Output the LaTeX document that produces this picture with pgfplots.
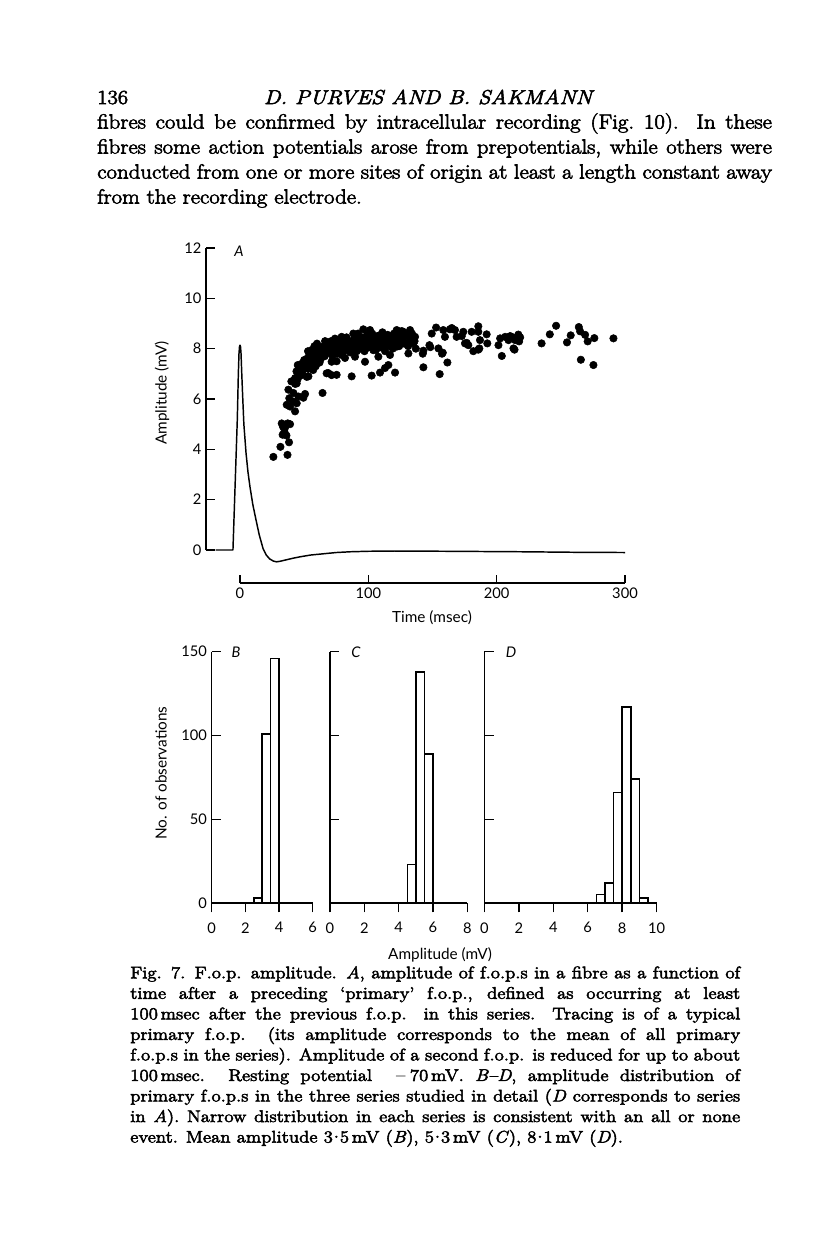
\documentclass[border=0pt]{standalone}
\usepackage{pgfplots}
\pgfplotsset{compat=1.18}
\usepackage{fontspec}
\newfontfamily\pagefont{Latin Modern Roman}[FakeBold=3, FakeStretch=1.12, Ligatures=TeX]
\newfontfamily\figfont{Lato}

\pgfplotsset{
  figaxis/.style={
    scale only axis,
    anchor=south west,
    axis line style={line width=1.1pt},
    tick style={black, line width=1.1pt},
    major tick length=7pt,
    tick label style={font=\figfont\fontsize{11}{12}\selectfont},
    /pgf/number format/assume math mode=true,
    clip=false,
  },
  noarrows/.style={
    tick align=inside,
    every outer x axis line/.append style={-},
    every outer y axis line/.append style={-},
    every inner x axis line/.append style={-},
    every inner y axis line/.append style={-},
    x axis line style={-}, y axis line style={-},
  },
  hist/.style={
    figaxis,
    axis lines=left,
    noarrows,
    ymin=0, ymax=150,
    ytick={0,50,100,150},
    height=188.5pt,
    every x tick/.append style={yshift=-7pt},
    xticklabel style={yshift=-11pt},
  },
}

\begin{document}
\begin{tikzpicture}[x=0.75pt, y=-0.75pt]
\fill[white] (0,0) rectangle (816,1250);
\path[use as bounding box] (0,0) rectangle (816,1250);
\coordinate (pA) at (206,550);
\coordinate (pT) at (240,583);
\coordinate (pB) at (211.7,903);
\coordinate (pC) at (330,903);
\coordinate (pD) at (484.3,903);

% page text
\node[anchor=base west, inner sep=0, font=\pagefont\fontsize{15}{18}\selectfont] at (97,104) {136};
\node[anchor=base, inner sep=0, font=\pagefont\itshape\fontsize{15}{18}\selectfont] at (428,104) {D. PURVES AND B. SAKMANN};
\node[anchor=north west, inner sep=0, text width=506pt, align=justify,
      font=\pagefont\fontsize{15.3}{18.75}\selectfont] at (97,113)
  {fibres could be confirmed by intracellular recording (Fig.~10). In these\linebreak
   fibres some action potentials arose from prepotentials, while others were\linebreak
   conducted from one or more sites of origin at least a length constant away\linebreak
   from the recording electrode.};

% ---------------- panel A ----------------
\begin{axis}[figaxis,
  at={(pA)},
  width=314.25pt, height=226.5pt,
  xmin=-26.5, xmax=300, ymin=0, ymax=12,
  axis x line=none, axis y line=left,
  noarrows,
  ytick={0,2,4,6,8,10,12},
]
% tracing of a primary f.o.p.
\addplot[black, line width=1.1pt, line join=round] coordinates {
  (-19,0) (-5.5,0) (-3.8,2.6) (-2.1,5.2) (-1.3,7.0) (-0.8,7.8) (-0.4,8.08) (0,8.14)
  (0.4,8.08) (0.8,7.8) (1.3,7.1) (2.0,6.2) (3.0,5.0) (4.7,3.85) (6.2,3.1) (7.8,2.5)
  (10,1.8) (12.5,1.19) (15,0.6) (18,0.05) (20.5,-0.2) (23,-0.35) (26,-0.44) (28.6,-0.47)
  (32,-0.44) (36,-0.39) (41,-0.33) (46.8,-0.27) (55,-0.2) (65,-0.15) (75,-0.1) (86,-0.07)
  (100,-0.05) (120,-0.04) (160,-0.05) (220,-0.07) (260,-0.09) (300,-0.10)
};
% amplitudes of second f.o.p.s
\addplot[only marks, mark=*, mark size=2.8pt, black] coordinates {
  (26,3.70) (31.5,4.10) (37,3.78) (38.2,4.28) (33.5,4.90) (34.6,4.70) (36.2,4.55)
  (33.2,4.58) (39,5.00) (32.5,5.03) (37.2,5.03) (35,4.85)
  (36.4,5.77) (39,5.70) (42.9,5.51) (41.6,5.90) (37.7,6.37) (45.5,6.10) (50.7,6.20)
  (41.6,6.24) (64.3,6.24) (38.4,6.03) (49.4,6.05) (44.2,5.83)
  (42.9,6.83) (44.2,6.62) (41.6,6.69) (46.8,7.02) (48.1,7.03) (52,6.88) (53.3,6.90)
  (50.7,7.45) (53.3,7.55) (55.9,7.90) (57.2,7.75) (59.8,7.88) (61.1,8.03) (62.4,8.05)
  (66.3,8.30) (70.1,8.14) (40,6.70) (43,6.60) (44,7.10) (45,6.80) (46,7.25) (47,7.00)
  (48,7.40) (49,7.15) (50,7.55) (51,7.30) (52,7.60) (53,7.20) (54,7.75) (45,7.35)
  (48,6.95) (53,7.90) (56,7.95) (58,8.10) (59,7.30) (62,7.45) (60,8.20) (55,7.40) (57,7.15)
  (67.5,7.02) (71.4,6.95) (68.8,7.03) (75.3,6.96) (87,6.90) (102.6,6.93) (109.1,7.05)
  (113,7.23) (115.6,7.35) (120.8,7.05) (71.4,7.48) (75.3,7.50) (81.8,7.63) (97.4,7.48)
  (89.6,7.68) (107.8,7.68) (116.9,7.75)
  (55,7.30) (56,7.60) (58,7.45) (60,7.70) (61,7.95) (63,7.60) (64,7.85) (65,8.10)
  (66,7.70) (67,7.95) (68,8.20) (69,7.85) (70,8.00) (71,8.30) (72,7.70) (73,8.10)
  (74,8.40) (75,8.00) (76,7.80) (77,8.25) (78,8.10) (79,8.00) (80,8.35) (81,7.90)
  (82,8.15) (83,8.45) (84,8.05) (85,8.30) (86,7.85) (87,8.20) (88,8.05) (89,8.40)
  (90,8.10) (91,7.90) (92,8.60) (93,8.20) (94,8.00) (95,8.45) (96,8.30) (97,7.90)
  (98,8.15) (99,8.55) (100,8.05) (101,8.40) (102,8.20) (103,8.60) (104,8.10) (105,8.35)
  (106,7.95) (107,8.50) (108,8.25) (109,8.05) (110,8.40) (111,8.65) (112,8.20) (113,7.90)
  (114,8.30) (115,8.55) (116,8.10) (117,8.45) (118,8.30) (119,8.00) (120,8.60) (121,8.20)
  (122,8.40) (123,8.55) (124,8.10) (125,8.30) (126,8.70) (127,8.45) (128,8.20) (130,8.50)
  (131,8.10) (133,8.35) (134,8.60) (136,8.30) (137,8.00)
  (74,7.88) (75.3,8.34) (79.2,8.47) (79.2,7.75) (83.1,8.21) (85.7,7.94) (88.3,8.60)
  (92.2,8.34) (96.1,8.77) (96.1,8.08) (100,8.34) (101.3,8.74) (103.9,7.94) (106.5,8.21)
  (109.1,8.54) (111.7,8.08) (114.3,8.47) (122.1,8.74) (122.1,8.08) (124.7,8.34)
  (127.3,8.67) (129.9,8.21) (131.2,7.81) (132.5,8.74) (135.1,8.21) (136.4,8.47)
  (142.9,7.92) (142.9,7.26) (147.6,8.14) (149.4,8.60) (152.8,8.84) (154.6,8.01)
  (155.6,6.99) (158,7.84) (158.4,8.74) (159.7,8.47) (161.6,7.45) (163.6,8.77)
  (167.5,8.74) (168.8,8.47) (174,8.67) (175.3,8.21) (177.9,8.14) (180.5,8.67)
  (181.8,7.90) (185.7,8.89) (185.7,8.67) (186.5,8.01) (187,8.34) (192.2,8.57)
  (192.7,8.21) (148.3,8.06) (142.4,7.80) (157.4,7.80) (165,8.82) (172.8,8.50)
  (176.7,8.23) (185.7,7.96)
  (201.4,8.14) (204,7.71) (202.7,8.41) (206.6,8.47) (209.2,8.34) (211.8,8.47)
  (213.1,8.01) (214.4,8.34) (217,8.50) (218.3,8.45) (210.5,8.50) (216.9,8.56)
  (213.9,7.96) (217.5,8.29)
  (235,8.21) (241.4,8.57) (246.3,8.91) (254.8,8.25) (257.7,8.53) (264,8.86) (265,8.69)
  (265.6,7.56) (268.9,8.55) (270.9,8.29) (275.4,7.35) (276.1,8.42) (291,8.41)
};
\end{axis}
\node[font=\figfont\itshape\fontsize{11}{12}\selectfont] at (239,251) {A};
\node[rotate=90, font=\figfont\fontsize{11.5}{12}\selectfont] at (162,393) {Amplitude (mV)};

% time scale
\begin{axis}[figaxis,
  at={(pT)},
  width=288.75pt, height=10pt,
  xmin=0, xmax=300, ymin=0, ymax=1,
  axis x line=bottom, axis y line=none,
  noarrows,
  xtick={0,100,200,300},
  major tick length=6pt,
]
\end{axis}
\node[font=\figfont\fontsize{11.5}{12}\selectfont] at (432,618) {Time (msec)};

% ---------------- panels B-D ----------------
\begin{axis}[hist, at={(pB)}, width=75.75pt, xmin=0, xmax=6, xtick={0,2,4,6}]
\addplot[ybar interval, draw=black, fill=white, line width=1.1pt]
  coordinates {(2.5,3) (3,101) (3.5,146) (4,146)};
\end{axis}
\begin{axis}[hist, at={(pC)}, width=103pt, xmin=0, xmax=8, xtick={0,2,4,6,8}, yticklabels={}]
\addplot[ybar interval, draw=black, fill=white, line width=1.1pt]
  coordinates {(4.5,23) (5,138) (5.5,89) (6,89)};
\end{axis}
\begin{axis}[hist, at={(pD)}, width=129.3pt, xmin=0, xmax=10, xtick={0,2,4,6,8,10}, yticklabels={}]
\addplot[ybar interval, draw=black, fill=white, line width=1.1pt]
  coordinates {(6.5,5) (7,12) (7.5,66) (8,117) (8.5,74) (9,3) (9.5,3)};
\end{axis}
\node[font=\figfont\itshape\fontsize{11}{12}\selectfont] at (236,652) {B};
\node[font=\figfont\itshape\fontsize{11}{12}\selectfont] at (356,652) {C};
\node[font=\figfont\itshape\fontsize{11}{12}\selectfont] at (511,652) {D};
\node[rotate=90, font=\figfont\fontsize{11.5}{12}\selectfont] at (161,773) {No. of observations};
\node[font=\figfont\fontsize{11.5}{12}\selectfont] at (440,955) {Amplitude (mV)};

% caption
\node[anchor=north west, inner sep=0, text width=457.5pt, align=justify,
      font=\pagefont\fontsize{12.6}{15.4}\selectfont] at (130,966)
  {Fig. 7. F.o.p. amplitude. \textit{A}, amplitude of f.o.p.s in a fibre as a function of\linebreak
   time after a preceding ‘primary’ f.o.p., defined as occurring at least\linebreak
   100\,msec after the previous f.o.p. in this series. Tracing is of a typical\linebreak
   primary f.o.p. (its amplitude corresponds to the mean of all primary\linebreak
   f.o.p.s in the series). Amplitude of a second f.o.p. is reduced for up to about\linebreak
   100\,msec. Resting potential \ $-$\,70\,mV. \textit{B–D}, amplitude distribution of\linebreak
   primary f.o.p.s in the three series studied in detail (\textit{D} corresponds to series\linebreak
   in \textit{A}). Narrow distribution in each series is consistent with an all or none\linebreak
   event. Mean amplitude 3\kern-0.22em·\kern-0.22em5\,mV (\textit{B}), 5\kern-0.22em·\kern-0.22em3\,mV (\textit{C}), 8\kern-0.22em·\kern-0.22em1\,mV (\textit{D}).};
\end{tikzpicture}
\end{document}
